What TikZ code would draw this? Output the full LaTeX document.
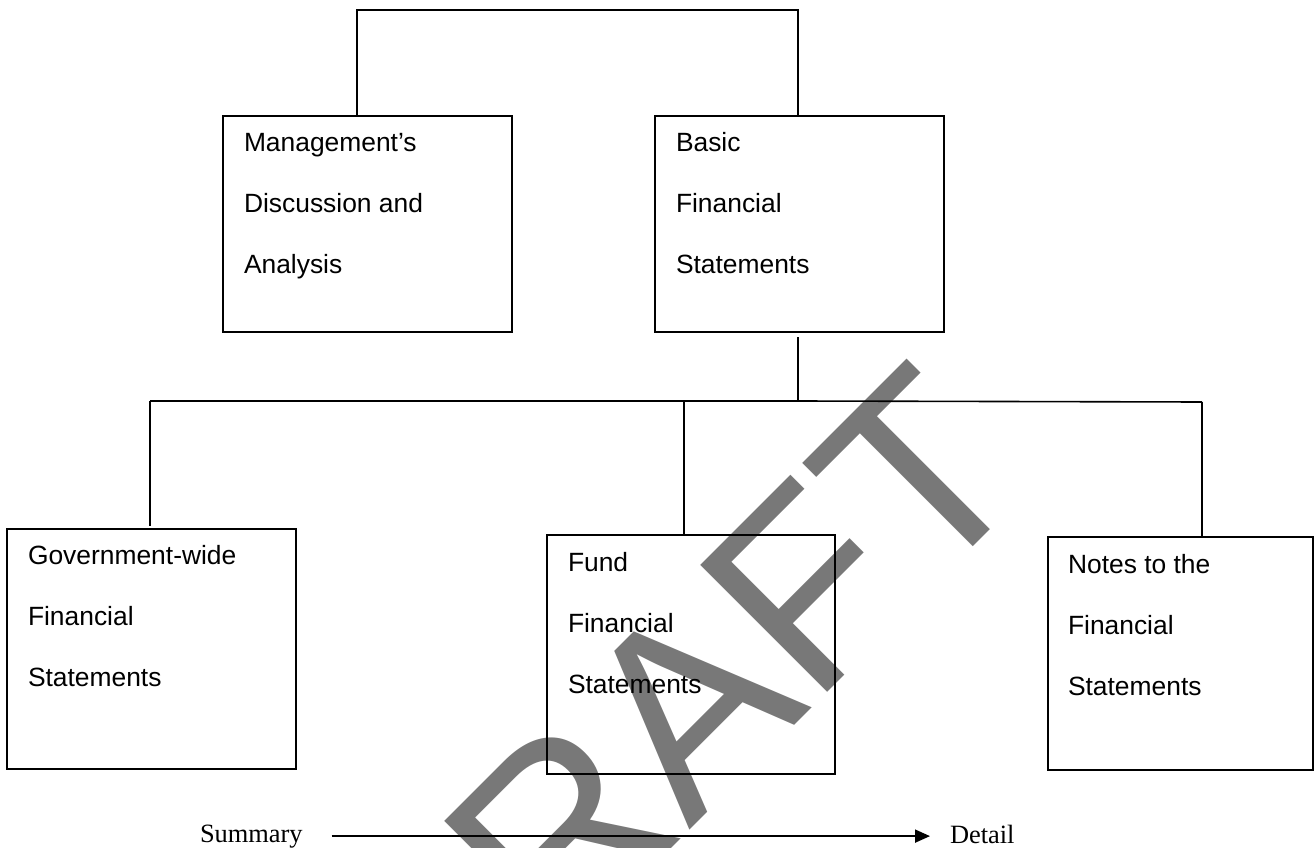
\documentclass[tikz,border=0pt]{standalone}
\usepackage{fontspec}
\setmainfont{Liberation Serif}
\newfontfamily\arialf{Liberation Sans}
\usetikzlibrary{arrows.meta,calc}
\definecolor{wmgray}{RGB}{120,120,120}
\newcommand\firstline{\rule{0pt}{20pt}}
\begin{document}
\begin{tikzpicture}[x=1pt,y=-1pt,
  box/.style={draw, rectangle, line width=1.8pt, inner sep=0pt, outer sep=0pt, anchor=north west},
  txt/.style={inner sep=0pt, outer sep=0pt, anchor=north west, align=left, font=\arialf\fontsize{26.4}{61}\selectfont},
  conn/.style={line width=1.6pt},
  lbl/.style={inner sep=0pt, outer sep=0pt, font=\fontsize{26.4}{30}\selectfont},
  arr/.style={line width=1.8pt, -{Triangle[length=15pt,width=13pt]}}]
\useasboundingbox (0,0) rectangle (1315,848);
\begin{scope}
  \clip (0,0) rectangle (1315,848);
  \node[rotate=45, text=wmgray, inner sep=0pt, font=\arialf\fontsize{261}{261}\selectfont] (wm) at (667,726) {DRAFT};
\end{scope}

% boxes
\node[box, minimum width=289pt, minimum height=216pt] (mda) at (223,116) {};
\node[box, minimum width=289pt, minimum height=216pt] (bfs) at (655,116) {};
\node[box, minimum width=289pt, minimum height=240pt] (gov) at (7,529) {};
\node[box, minimum width=288pt, minimum height=239pt] (fund) at (547,535) {};
\node[box, minimum width=265pt, minimum height=233pt] (notes) at (1048,537) {};

% texts
\node[txt] (mdat) at ($(mda.north west)+(21,15.5)$) {\firstline Management’s\\Discussion and\\Analysis};
\node[txt] (bfst) at ($(bfs.north west)+(21,15.5)$) {\firstline Basic\\Financial\\Statements};
\node[txt] (govt) at ($(gov.north west)+(21,15.5)$) {\firstline Government-wide\\Financial\\Statements};
\node[txt] (fundt) at ($(fund.north west)+(21,16)$) {\firstline Fund\\Financial\\Statements};
\node[txt] (notest) at ($(notes.north west)+(20,16)$) {\firstline Notes to the\\Financial\\Statements};

% connectors
\coordinate (tl) at (357,10);
\coordinate (tr) at (798,10);
\draw[conn] (mda.north -| tl) -- (tl) -- (tr) -- (bfs.north -| tr);

\coordinate (bj) at (798,401);
\draw[conn] ($(bfs.south -| bj)+(0,5)$) -- (bj);

\coordinate (g1) at (150,401);
\coordinate (f1) at (684,401);
\coordinate (n1) at (1202,402);
\draw[conn] (g1) -- (bj) -- (n1);
\draw[conn] (g1) -- ($(gov.north -| g1)+(0,-3)$);
\draw[conn] (f1) -- (fund.north -| f1);
\draw[conn] (n1) -- (notes.north -| n1);

% summary -> detail
\node[lbl, anchor=base west] (sum) at (200,842) {Summary};
\node[lbl, anchor=base west] (det) at (950,843) {Detail};
\draw[arr, shorten <=29pt, shorten >=20pt] (sum.east) -- (sum.east -| det.west);
\end{tikzpicture}
\end{document}
